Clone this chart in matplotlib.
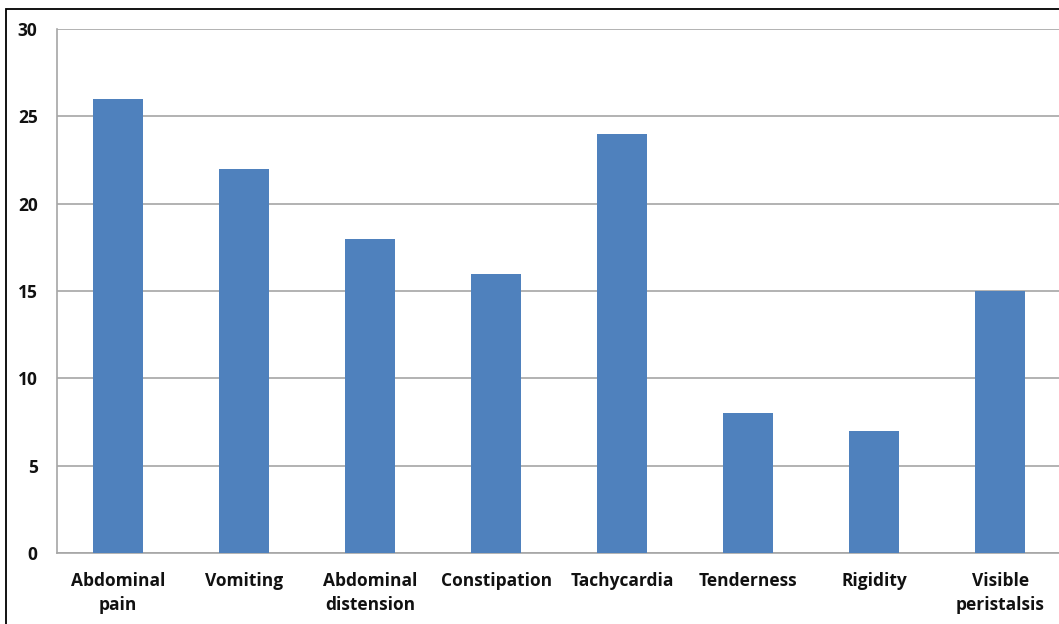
import numpy as np
import matplotlib
matplotlib.use("Agg")
from matplotlib import pyplot as plt
from matplotlib.patches import Rectangle

# symptom counts
symptoms = ["Abdominal\npain", "Vomiting", "Abdominal\ndistension", "Constipation",
            "Tachycardia", "Tenderness", "Rigidity", "Visible\nperistalsis"]
counts = [26, 22, 18, 16, 24, 8, 7, 15]
yticks = [0, 5, 10, 15, 20, 25, 30]

W, H = 1059, 624
fig = plt.figure(figsize=(W / 100, H / 100), dpi=100)

# outer frame (right/bottom edges fall outside the canvas)
fig.patches.append(Rectangle((6 / W, -0.1), 1.2, 1 - 9 / H + 0.1, transform=fig.transFigure,
                             fill=False, edgecolor="black", linewidth=1.3))

ax = fig.add_axes([57 / W, (H - 553) / H, 1008 / W, (553 - 29) / H])
x = np.arange(len(symptoms))
ax.bar(x, counts, width=0.4, color="#4F81BD", zorder=3)

ax.set_xlim(-0.485, len(symptoms) - 0.485)
ax.set_ylim(0, 30)
ax.set_yticks(yticks)
ax.set_yticklabels([str(t) for t in yticks])
ax.yaxis.grid(True, color="#A6A6A6", linewidth=1.2, zorder=0)
ax.set_xticks(x)
ax.set_xticklabels(symptoms, linespacing=1.4)

for s in ["top", "right"]:
    ax.spines[s].set_visible(False)
for s in ["left", "bottom"]:
    ax.spines[s].set_color("#A6A6A6")
    ax.spines[s].set_linewidth(1.2)

ax.tick_params(axis="both", length=0, labelsize=12.5)
ax.tick_params(axis="y", pad=14)
ax.tick_params(axis="x", pad=14)
for lab in ax.get_xticklabels() + ax.get_yticklabels():
    lab.set_fontfamily("Open Sans")
    lab.set_fontweight("bold")
    lab.set_color("#111111")

fig.savefig("out.png", dpi=100)
